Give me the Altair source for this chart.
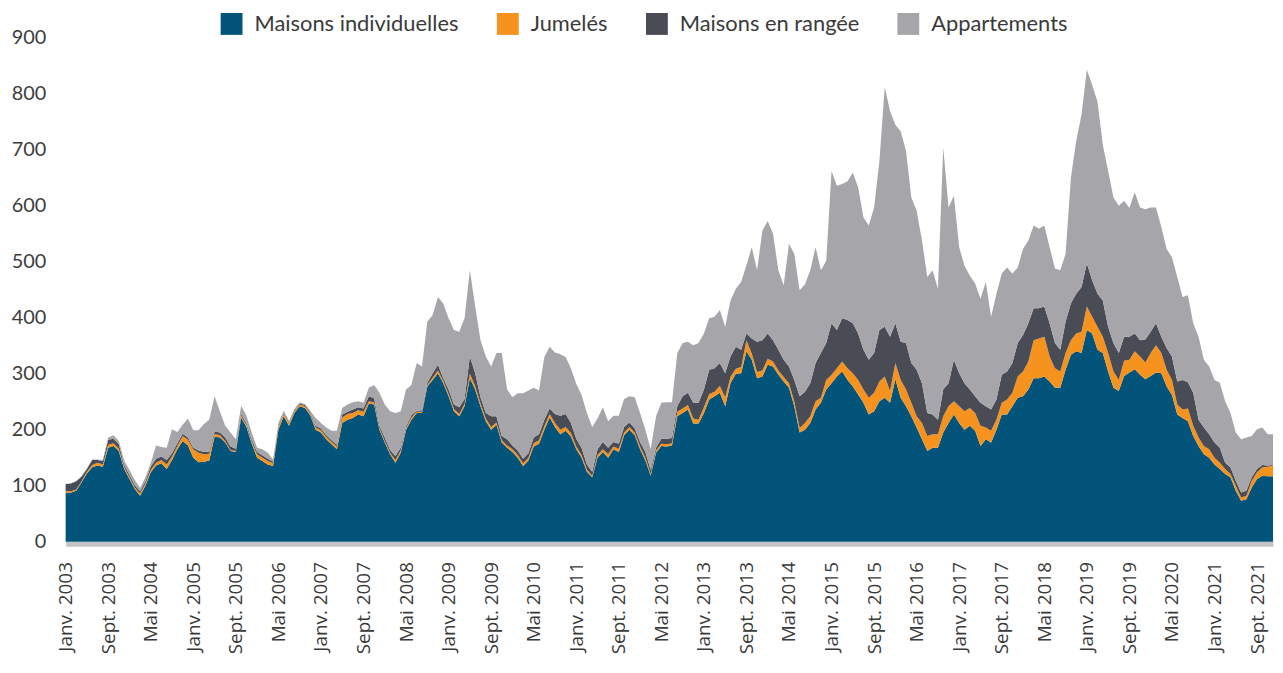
import altair as alt
import pandas as pd

series_names = ["Maisons individuelles", "Jumelés", "Maisons en rangée", "Appartements"]
series_colors = ["#02547a", "#f6931f", "#494c55", "#a6a5aa"]

# Monthly values, Jan 2003 .. Dec 2021 (one line per year)
maisons_individuelles = [
    87, 88, 91, 106, 122, 133, 136, 134, 168, 171, 162, 130,
    112, 94, 82, 100, 124, 136, 140, 130, 146, 165, 180, 172,
    150, 142, 143, 145, 188, 186, 177, 162, 160, 222, 205, 175,
    150, 144, 138, 135, 200, 224, 207, 230, 242, 239, 226, 200,
    195, 183, 174, 165, 212, 218, 221, 227, 224, 247, 245, 200,
    177, 156, 141, 159, 200, 218, 230, 230, 277, 289, 301, 283,
    260, 233, 224, 242, 292, 272, 242, 215, 200, 209, 177, 168,
    160, 150, 135, 145, 170, 175, 200, 222, 205, 192, 198, 188,
    165, 150, 125, 115, 150, 160, 150, 165, 160, 190, 200, 190,
    165, 145, 118, 159, 171, 170, 172, 224, 230, 236, 211, 211,
    230, 254, 260, 266, 242, 283, 300, 301, 340, 325, 292, 295,
    316, 313, 298, 286, 275, 242, 195, 200, 212, 236, 248, 272,
    283, 295, 304, 289, 277, 263, 248, 227, 233, 251, 257, 248,
    290, 257, 242, 224, 204, 183, 162, 168, 168, 195, 212, 227,
    212, 200, 207, 198, 171, 183, 177, 200, 227, 227, 242, 257,
    260, 272, 292, 292, 295, 286, 275, 275, 307, 334, 340, 337,
    378, 372, 343, 337, 304, 275, 269, 296, 302, 308, 298, 290,
    296, 302, 301, 277, 262, 227, 221, 215, 189, 171, 156, 150,
    138, 130, 121, 115, 91, 73, 76, 97, 112, 118, 117, 117,
]
jumeles = [
    3, 2, 2, 2, 3, 4, 5, 4, 5, 5, 4, 3,
    3, 3, 4, 4, 4, 5, 6, 8, 6, 6, 9, 10,
    15, 17, 13, 12, 5, 4, 3, 2, 2, 3, 3, 3,
    6, 6, 6, 5, 5, 4, 4, 3, 3, 3, 3, 4,
    4, 4, 4, 5, 10, 10, 9, 8, 8, 4, 4, 3,
    3, 3, 5, 4, 3, 4, 2, 2, 3, 4, 5, 4,
    4, 4, 4, 4, 8, 6, 5, 5, 5, 4, 4, 4,
    5, 5, 5, 5, 6, 6, 6, 6, 7, 8, 7, 6,
    5, 5, 4, 3, 5, 5, 6, 5, 6, 5, 5, 5,
    5, 5, 3, 4, 4, 4, 4, 8, 8, 8, 9, 7,
    10, 10, 8, 12, 16, 11, 9, 11, 20, 11, 11, 11,
    11, 9, 8, 8, 8, 8, 8, 12, 12, 15, 9, 17,
    15, 15, 18, 21, 24, 26, 24, 30, 33, 35, 38, 21,
    29, 32, 30, 24, 20, 29, 27, 24, 24, 29, 30, 24,
    30, 33, 32, 32, 36, 21, 21, 18, 21, 27, 24, 38,
    44, 50, 68, 71, 71, 45, 35, 29, 30, 26, 32, 38,
    42, 30, 41, 29, 33, 29, 20, 27, 23, 32, 33, 30,
    41, 49, 36, 30, 27, 18, 15, 23, 18, 15, 15, 15,
    12, 11, 9, 6, 9, 6, 6, 12, 12, 15, 17, 19,
]
maisons_en_rangee = [
    13, 14, 15, 8, 5, 9, 5, 6, 9, 8, 8, 4,
    4, 4, 4, 4, 6, 7, 6, 8, 6, 5, 4, 4,
    3, 4, 4, 4, 4, 5, 6, 6, 4, 3, 3, 4,
    4, 4, 4, 3, 2, 2, 2, 2, 2, 2, 2, 3,
    3, 3, 3, 3, 5, 4, 6, 5, 6, 9, 7, 4,
    6, 5, 7, 5, 3, 4, 2, 3, 4, 8, 10, 5,
    8, 8, 12, 9, 31, 23, 11, 10, 19, 11, 8, 11,
    7, 8, 8, 8, 10, 11, 12, 10, 16, 25, 23, 18,
    14, 13, 9, 7, 10, 13, 12, 8, 9, 10, 8, 7,
    8, 10, 7, 5, 9, 10, 9, 10, 22, 22, 28, 30,
    32, 43, 42, 41, 43, 37, 39, 31, 12, 27, 54, 54,
    45, 38, 37, 31, 30, 39, 57, 56, 59, 68, 80, 66,
    92, 68, 77, 86, 89, 83, 71, 68, 71, 92, 89, 97,
    71, 68, 83, 71, 83, 71, 41, 35, 26, 48, 41, 74,
    59, 50, 33, 30, 41, 38, 38, 36, 50, 50, 53, 60,
    65, 68, 57, 54, 54, 59, 45, 39, 56, 66, 71, 80,
    77, 65, 59, 65, 47, 51, 48, 43, 41, 32, 29, 41,
    38, 39, 29, 39, 42, 41, 53, 47, 59, 32, 33, 27,
    27, 27, 11, 12, 9, 9, 9, 6, 6, 4, 2, 1,
]
appartements = [
    0, 0, 1, 2, 1, 1, 1, 2, 4, 6, 6, 8,
    9, 9, 6, 7, 6, 24, 17, 22, 43, 20, 16, 34,
    31, 36, 50, 57, 63, 38, 21, 25, 17, 15, 14, 13,
    8, 11, 11, 4, 5, 4, 3, 2, 2, 2, 3, 14,
    10, 14, 17, 25, 12, 13, 13, 11, 10, 15, 24, 59,
    59, 69, 77, 65, 66, 54, 85, 78, 109, 104, 121, 133,
    127, 133, 135, 144, 154, 119, 102, 101, 89, 113, 148, 89,
    86, 102, 117, 112, 89, 78, 112, 110, 110, 110, 102, 98,
    98, 94, 92, 80, 55, 62, 47, 47, 50, 50, 47, 56,
    52, 40, 37, 56, 64, 65, 64, 95, 95, 91, 103, 107,
    100, 92, 92, 95, 83, 100, 104, 121, 122, 163, 128, 196,
    201, 190, 142, 133, 219, 225, 189, 192, 202, 207, 148, 147,
    272, 258, 240, 248, 269, 261, 236, 240, 260, 302, 428, 403,
    355, 376, 343, 296, 284, 255, 243, 258, 234, 432, 314, 293,
    225, 210, 203, 201, 186, 222, 166, 189, 181, 186, 160, 135,
    154, 148, 148, 142, 145, 136, 133, 142, 121, 224, 273, 308,
    346, 349, 343, 278, 278, 260, 263, 243, 230, 252, 237, 233,
    222, 207, 196, 177, 177, 187, 148, 155, 124, 148, 121, 121,
    112, 116, 110, 97, 86, 95, 95, 74, 71, 67, 56, 55,
]

# Axis tick labels, every 8 months from Jan 2003
tick_labels = [
    "Janv. 2003", "Sept. 2003", "Mai 2004", "Janv. 2005", "Sept. 2005",
    "Mai 2006", "Janv. 2007", "Sept. 2007", "Mai 2008", "Janv. 2009",
    "Sept. 2009", "Mai 2010", "Janv. 2011", "Sept. 2011", "Mai 2012",
    "Janv. 2013", "Sept. 2013", "Mai 2014", "Janv. 2015", "Sept. 2015",
    "Mai 2016", "Janv. 2017", "Sept. 2017", "Mai 2018", "Janv. 2019",
    "Sept. 2019", "Mai 2020", "Janv. 2021", "Sept. 2021",
]
y_ticks = [0, 100, 200, 300, 400, 500, 600, 700, 800, 900]

all_series = [maisons_individuelles, jumeles, maisons_en_rangee, appartements]
n = len(maisons_individuelles)
rows = []
for k, (name, vals) in enumerate(zip(series_names, all_series)):
    for i in range(n):
        rows.append({"m": i, "serie": name, "ord": k, "v": vals[i]})
df = pd.DataFrame(rows)

tick_values = [8 * j for j in range(len(tick_labels))]
label_expr = "[" + ",".join("'" + t + "'" for t in tick_labels) + "][round(datum.value / 8)]"

chart = (
    alt.Chart(df, background="white")
    .mark_area(interpolate="linear", strokeWidth=0)
    .encode(
        x=alt.X(
            "m:Q",
            scale=alt.Scale(domain=[0, n - 1], nice=False, zero=False),
            axis=alt.Axis(
                values=tick_values,
                labelExpr=label_expr,
                labelAngle=270,
                labelFont="Open Sans",
                labelFontSize=19,
                labelColor="#3a3a3a",
                labelPadding=18,
                labelOverlap=False,
                labelFlush=False,
                ticks=False,
                grid=False,
                domainColor="#c4c4c8",
                domainWidth=5,
                offset=2,
                title=None,
            ),
        ),
        y=alt.Y(
            "v:Q",
            stack="zero",
            scale=alt.Scale(domain=[0, 900], nice=False),
            axis=alt.Axis(
                values=y_ticks,
                labelFont="Lato",
                labelFontSize=20,
                labelColor="#3d3d3d",
                labelPadding=20,
                ticks=False,
                domain=False,
                grid=False,
                title=None,
            ),
        ),
        color=alt.Color(
            "serie:N",
            scale=alt.Scale(domain=series_names, range=series_colors),
            legend=alt.Legend(
                orient="none",
                legendX=156,
                legendY=-25,
                direction="horizontal",
                title=None,
                symbolType="square",
                symbolSize=484,
                symbolStrokeWidth=0,
                symbolOpacity=1,
                labelFont="Lato",
                labelFontSize=22,
                labelColor="#3a3a3a",
                labelOffset=12,
                labelLimit=0,
                columnPadding=38,
            ),
        ),
        order=alt.Order("ord:Q", sort="ascending"),
    )
    .properties(
        width=1215,
        height=507,
        autosize=alt.AutoSizeParams(type="none"),
        padding={"left": 58, "top": 28, "right": 2, "bottom": 115},
    )
    .configure_view(stroke=None)
)

chart.save("out.html", embed_options={"renderer": "svg", "actions": False})
